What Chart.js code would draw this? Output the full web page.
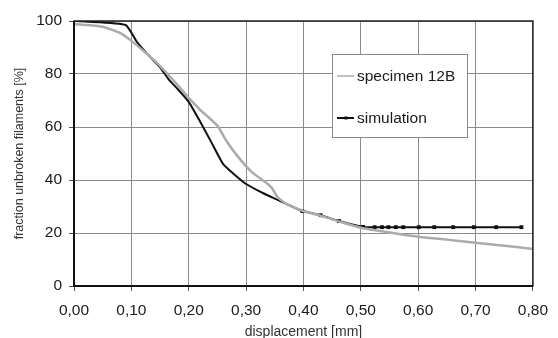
<!DOCTYPE html>
<html>
<head>
<meta charset="utf-8">
<script src="https://cdn.jsdelivr.net/npm/chart.js@4"></script>
<style>
html,body{margin:0;padding:0;background:#fff;}
#wrap{width:558px;height:338px;position:relative;}
</style>
</head>
<body>
<div id="wrap"><canvas id="c" width="558" height="338"></canvas></div>
<script>
// ---- data ----
const specimenX = [0, 0.02, 0.05, 0.08, 0.10, 0.125, 0.15, 0.18, 0.20, 0.22, 0.25, 0.265, 0.285, 0.31, 0.335, 0.345, 0.355, 0.37, 0.40, 0.43, 0.46, 0.50, 0.55, 0.60, 0.65, 0.70, 0.75, 0.80];
const specimenY = [98.8, 98.5, 97.8, 95.5, 92.5, 88, 83, 76, 71, 66.5, 60.5, 55, 49, 43, 39, 37, 33.5, 31, 28.3, 26.5, 24.5, 22, 20.2, 18.6, 17.5, 16.3, 15.2, 14];
const simulationX = [0, 0.02, 0.09, 0.11, 0.13, 0.15, 0.165, 0.18, 0.20, 0.22, 0.24, 0.26, 0.28, 0.30, 0.33, 0.355, 0.375, 0.398, 0.43, 0.462, 0.504, 0.524, 0.537, 0.548, 0.561, 0.574, 0.601, 0.628, 0.661, 0.697, 0.736, 0.78];
const simulationY = [100, 99.8, 98.5, 92, 87, 82.5, 78, 74.5, 69.5, 62, 54, 46, 42, 38.5, 35, 32.5, 30.5, 28.3, 26.7, 24.5, 22.3, 22.2, 22.2, 22.2, 22.2, 22.2, 22.2, 22.2, 22.2, 22.2, 22.2, 22.2];
const seriesNames = ["specimen 12B", "simulation"];
const xTitle = "displacement [mm]";
const yTitle = "fraction unbroken filaments [%]";

const toPts = (xs, ys) => xs.map((x, i) => ({x: x, y: ys[i]}));
const FONT = "'Liberation Sans', Arial, sans-serif";

const frame = {
  id: 'frame',
  afterDraw(chart) {
    const {ctx, chartArea: a} = chart;
    ctx.save();
    ctx.strokeStyle = '#222';
    ctx.lineWidth = 1.5;
    ctx.strokeRect(a.left, a.top, a.right - a.left, a.bottom - a.top);
    ctx.lineWidth = 2;
    ctx.strokeStyle = '#111';
    ctx.beginPath();
    ctx.moveTo(a.left, a.top); ctx.lineTo(a.left, a.bottom); ctx.lineTo(a.right, a.bottom);
    ctx.stroke();
    // legend box
    const bx = 332, by = 54, bw = 135, bh = 83;
    ctx.fillStyle = '#fff';
    ctx.fillRect(bx, by, bw, bh);
    ctx.strokeStyle = '#888';
    ctx.lineWidth = 1;
    ctx.strokeRect(bx + 0.5, by + 0.5, bw, bh);
    const items = [{y: 76, ds: chart.data.datasets[0]}, {y: 118, ds: chart.data.datasets[1]}];
    ctx.font = '15.5px ' + FONT;
    ctx.textBaseline = 'middle';
    items.forEach((it, i) => {
      ctx.strokeStyle = it.ds.borderColor;
      ctx.lineWidth = i === 0 ? 1.5 : 2;
      ctx.beginPath(); ctx.moveTo(337, it.y); ctx.lineTo(354, it.y); ctx.stroke();
      if (i === 1) {
        ctx.fillStyle = it.ds.borderColor;
        ctx.fillRect(344.5, it.y - 1.5, 3, 3);
      }
      ctx.fillStyle = '#1a1a1a';
      ctx.fillText(it.ds.label, 357, it.y + 1);
    });
    ctx.restore();
  }
};

new Chart(document.getElementById('c'), {
  type: 'line',
  data: {
    datasets: [
      {label: seriesNames[0], data: toPts(specimenX, specimenY), borderColor: '#ababab', borderWidth: 2.5, pointRadius: 0, tension: 0.15, fill: false},
      {label: seriesNames[1], data: toPts(simulationX, simulationY), borderColor: '#111', backgroundColor: '#111', borderWidth: 2,
       pointRadius: c => (c.raw && c.raw.x >= 0.39 ? 1.3 : 0), pointStyle: 'rect', tension: 0.15, fill: false}
    ]
  },
  options: {
    responsive: false,
    animation: false,
    devicePixelRatio: 1,
    layout: {padding: {top: 21, right: 18, left: 0, bottom: 0}},
    plugins: {legend: {display: false}, tooltip: {enabled: false}},
    scales: {
      x: {
        type: 'linear', min: 0, max: 0.8,
        afterFit(s) { s.height = 52; },
        ticks: {stepSize: 0.1, color: '#1a1a1a', font: {family: FONT, size: 15.5}, padding: 10,
          callback: v => v.toFixed(2).replace('.', ',')},
        grid: {color: '#8c8c8c', lineWidth: 1, tickLength: 5, tickColor: '#555'},
        border: {display: false},
        title: {display: true, text: xTitle, color: '#333', font: {family: FONT, size: 14}, padding: {top: 0, bottom: -3}}
      },
      y: {
        min: 0, max: 100,
        afterFit(s) { s.width = 74; },
        ticks: {stepSize: 20, color: '#1a1a1a', font: {family: FONT, size: 15.5}, padding: 7},
        grid: {color: '#8c8c8c', lineWidth: 1, tickLength: 5, tickColor: '#555'},
        border: {display: false},
        title: {display: true, text: yTitle, color: '#333', font: {family: FONT, size: 12.5}, padding: {top: 12, bottom: 0}}
      }
    }
  },
  plugins: [frame]
});
</script>
</body>
</html>
